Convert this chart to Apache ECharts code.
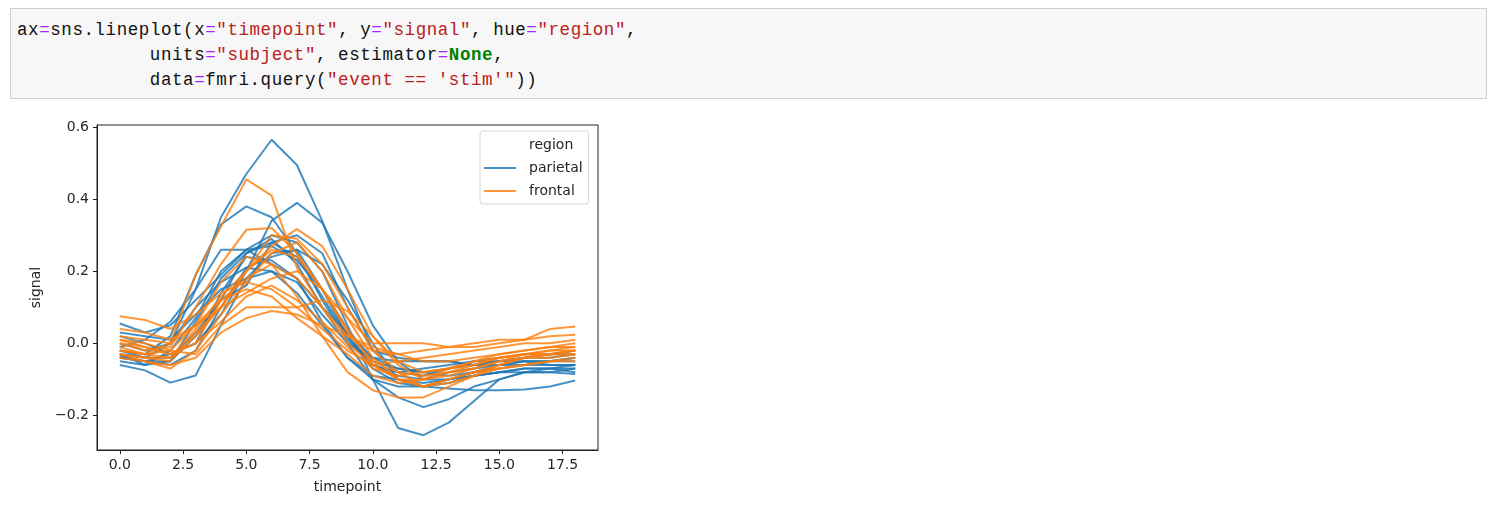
<!DOCTYPE html>
<html>
<head>
<meta charset="utf-8">
<script src="https://cdn.jsdelivr.net/npm/echarts@6/dist/echarts.min.js"></script>
<style>
  html, body { margin: 0; padding: 0; background: #ffffff; }
  body { width: 1494px; height: 518px; position: relative; overflow: hidden; }
  #code {
    position: absolute; left: 10px; top: 8px; width: 1477px; height: 91px;
    background: #f7f7f7; border: 1px solid #cfcfcf; box-sizing: border-box;
    font-family: "Liberation Mono", "DejaVu Sans Mono", monospace; font-size: 17.5px; letter-spacing: 0.57px;
    line-height: 25px; padding: 9px 0 0 6px; color: #111; white-space: pre;
  }
  .o { color: #aa22ff; }
  .s { color: #ba2121; }
  .k { color: #008000; font-weight: bold; }
  #chart { position: absolute; left: 0; top: 0; width: 1494px; height: 518px; }
</style>
</head>
<body>
<div id="chart"></div>
<div id="code">ax<span class="o">=</span>sns.lineplot(x<span class="o">=</span><span class="s">"timepoint"</span>, y<span class="o">=</span><span class="s">"signal"</span>, hue<span class="o">=</span><span class="s">"region"</span>,
            units<span class="o">=</span><span class="s">"subject"</span>, estimator<span class="o">=</span><span class="k">None</span>,
            data<span class="o">=</span>fmri.query(<span class="s">"event == 'stim'"</span>))</div>
<script>
const timepoints = [0,1,2,3,4,5,6,7,8,9,10,11,12,13,14,15,16,17,18];
const xTicks = [0, 2.5, 5, 7.5, 10, 12.5, 15, 17.5];
const yTicks = [-0.2, 0, 0.2, 0.4, 0.6];

const parietal = [
  [-0.03,-0.04,0.0,0.15,0.35,0.47,0.565,0.495,0.34,0.15,-0.02,-0.08,-0.09,-0.07,-0.06,-0.05,-0.05,-0.06,-0.06],
  [-0.02,-0.03,0.02,0.19,0.33,0.38,0.35,0.25,0.12,0.01,-0.06,-0.09,-0.1,-0.08,-0.07,-0.06,-0.05,-0.05,-0.04],
  [-0.04,-0.05,-0.03,0.0,0.08,0.2,0.34,0.39,0.335,0.2,0.05,-0.05,-0.1,-0.1,-0.09,-0.08,-0.07,-0.07,-0.06],
  [-0.03,-0.06,-0.05,0.02,0.12,0.25,0.29,0.22,0.1,0.0,-0.1,-0.235,-0.255,-0.22,-0.16,-0.1,-0.08,-0.08,-0.07],
  [-0.05,-0.06,-0.02,0.07,0.2,0.26,0.3,0.28,0.2,0.05,-0.1,-0.15,-0.177,-0.155,-0.12,-0.1,-0.08,-0.07,-0.07],
  [-0.06,-0.075,-0.109,-0.089,0.05,0.18,0.25,0.26,0.15,0.02,-0.06,-0.08,-0.07,-0.06,-0.05,-0.05,-0.04,-0.04,-0.03],
  [0.0,-0.02,0.0,0.1,0.17,0.21,0.2,0.14,0.05,-0.04,-0.1,-0.12,-0.12,-0.125,-0.13,-0.13,-0.128,-0.12,-0.103],
  [0.055,0.03,0.05,0.12,0.19,0.26,0.27,0.23,0.15,0.04,-0.05,-0.07,-0.08,-0.09,-0.08,-0.07,-0.06,-0.06,-0.06],
  [-0.02,-0.04,-0.04,0.03,0.12,0.16,0.28,0.3,0.25,0.1,-0.02,-0.04,-0.05,-0.05,-0.06,-0.05,-0.04,-0.03,-0.03],
  [-0.01,0.01,0.06,0.15,0.26,0.26,0.22,0.18,0.1,0.03,-0.04,-0.07,-0.08,-0.07,-0.05,-0.04,-0.03,-0.03,-0.02],
  [-0.04,-0.05,-0.06,-0.02,0.1,0.21,0.24,0.26,0.22,0.12,0.0,-0.1,-0.12,-0.11,-0.09,-0.08,-0.07,-0.07,-0.08],
  [0.02,0.0,-0.03,0.0,0.14,0.24,0.23,0.18,0.06,-0.04,-0.09,-0.1,-0.11,-0.1,-0.09,-0.08,-0.08,-0.08,-0.085],
  [-0.035,-0.05,-0.05,0.06,0.18,0.25,0.28,0.24,0.13,0.02,-0.07,-0.11,-0.12,-0.1,-0.08,-0.06,-0.06,-0.05,-0.05],
  [0.03,0.02,0.01,0.08,0.15,0.18,0.2,0.17,0.08,0.0,-0.04,-0.05,-0.05,-0.05,-0.06,-0.06,-0.05,-0.05,-0.04]
];

const frontal = [
  [-0.02,-0.03,0.0,0.19,0.325,0.455,0.41,0.21,0.1,0.0,-0.06,-0.1,-0.12,-0.1,-0.08,-0.06,-0.04,-0.03,-0.02],
  [0.0,-0.02,-0.01,0.1,0.22,0.315,0.32,0.25,0.15,0.03,-0.05,-0.08,-0.09,-0.08,-0.06,-0.04,-0.03,-0.02,-0.02],
  [-0.03,-0.04,-0.04,0.02,0.1,0.2,0.27,0.317,0.27,0.15,0.02,-0.06,-0.1,-0.09,-0.07,-0.05,-0.03,-0.03,-0.02],
  [0.075,0.065,0.04,0.08,0.14,0.17,0.15,0.1,0.04,-0.02,-0.06,-0.05,-0.04,-0.03,-0.02,-0.01,0.0,0.0,0.01],
  [0.02,0.01,0.0,0.05,0.12,0.18,0.22,0.18,0.1,0.02,-0.02,-0.03,-0.02,-0.01,0.0,0.01,0.01,0.04,0.047],
  [-0.01,-0.03,-0.02,0.05,0.17,0.24,0.22,0.13,0.02,-0.08,-0.13,-0.15,-0.15,-0.12,-0.09,-0.07,-0.06,-0.05,-0.04],
  [-0.03,-0.05,-0.06,-0.04,0.03,0.07,0.09,0.08,0.05,0.02,-0.01,-0.03,-0.05,-0.05,-0.04,-0.03,-0.02,-0.01,-0.01],
  [0.04,0.03,0.01,0.05,0.1,0.14,0.18,0.2,0.15,0.07,0.0,0.0,0.0,-0.01,-0.01,0.0,0.01,0.02,0.024],
  [-0.04,-0.05,-0.07,-0.02,0.08,0.17,0.25,0.28,0.2,0.07,-0.04,-0.1,-0.12,-0.1,-0.08,-0.07,-0.06,-0.05,-0.05],
  [0.01,0.0,-0.02,-0.03,0.05,0.1,0.1,0.1,0.12,0.09,0.02,-0.05,-0.08,-0.07,-0.06,-0.04,-0.03,-0.02,-0.01],
  [-0.02,-0.03,-0.04,0.04,0.13,0.2,0.26,0.24,0.15,0.04,-0.06,-0.1,-0.1,-0.08,-0.07,-0.05,-0.04,-0.04,-0.03],
  [0.0,-0.01,-0.03,0.0,0.06,0.13,0.16,0.12,0.06,-0.01,-0.07,-0.09,-0.08,-0.07,-0.05,-0.04,-0.03,-0.03,-0.03],
  [-0.03,-0.04,-0.05,0.03,0.1,0.2,0.3,0.29,0.22,0.1,-0.02,-0.08,-0.12,-0.11,-0.09,-0.06,-0.04,-0.03,-0.02],
  [0.01,-0.01,-0.03,0.0,0.12,0.15,0.13,0.07,0.02,-0.03,-0.09,-0.11,-0.1,-0.07,-0.05,-0.03,-0.02,-0.01,0.0]
];

const BLUE = '#1f77b4', ORANGE = '#ff7f0e';
const font = '"DejaVu Sans", sans-serif';
const TXT = '#262626';

function mk(name, color, vals) {
  return {
    type: 'line', name: name, data: timepoints.map((t, i) => [t, vals[i]]),
    symbol: 'none', showSymbol: false, silent: true, animation: false,
    lineStyle: { color: color, width: 2, opacity: 0.82 },
    itemStyle: { color: color, opacity: 0.82 }
  };
}
const series = [];
parietal.forEach(v => series.push(mk('parietal', BLUE, v)));
frontal.forEach(v => series.push(mk('frontal', ORANGE, v)));

const chart = echarts.init(document.getElementById('chart'), null, { renderer: 'canvas' });
chart.setOption({
  animation: false,
  backgroundColor: '#ffffff',
  grid: { left: 97, top: 125, width: 501, height: 325, show: true, borderColor: '#222', borderWidth: 1, backgroundColor: 'transparent' },
  xAxis: {
    type: 'value', min: -0.9, max: 18.9,
    name: 'timepoint', nameLocation: 'middle', nameGap: 30,
    nameTextStyle: { fontFamily: font, fontSize: 14, color: TXT },
    axisLine: { show: true, onZero: false, lineStyle: { color: '#222', width: 1 } },
    axisTick: { show: true, length: 4, customValues: xTicks, lineStyle: { color: '#222' } },
    axisLabel: { customValues: xTicks, margin: 8, fontFamily: font, fontSize: 14, color: TXT, formatter: v => v.toFixed(1) },
    splitLine: { show: false }
  },
  yAxis: {
    type: 'value', min: -0.296, max: 0.606,
    name: 'signal', nameLocation: 'middle', nameGap: 54, nameRotate: 90,
    nameTextStyle: { fontFamily: font, fontSize: 14, color: TXT },
    axisLine: { show: true, onZero: false, lineStyle: { color: '#222', width: 1 } },
    axisTick: { show: true, length: 4, customValues: yTicks, lineStyle: { color: '#222' } },
    axisLabel: { customValues: yTicks, margin: 8, fontFamily: font, fontSize: 14, color: TXT,
      formatter: v => (v < 0 ? '\u2212' + Math.abs(v).toFixed(1) : v.toFixed(1)) },
    splitLine: { show: false }
  },
  legend: {
    orient: 'vertical', left: 480, top: 131,
    data: [{ name: 'parietal', icon: 'rect' }, { name: 'frontal', icon: 'rect' }],
    itemWidth: 32, itemHeight: 2, itemGap: 7,
    padding: [29, 6, 5, 4],
    borderColor: '#d6d6d6', borderWidth: 1, borderRadius: 3, backgroundColor: 'rgba(255,255,255,0.8)',
    textStyle: { fontFamily: font, fontSize: 14, lineHeight: 16, color: TXT, padding: [0, 0, 0, 8] },
    selectedMode: false
  },
  graphic: [{
    type: 'text', left: 529, top: 138, z: 100,
    style: { text: 'region', font: '14px ' + font, fill: TXT }
  }],
  series: series
});
</script>
</body>
</html>
